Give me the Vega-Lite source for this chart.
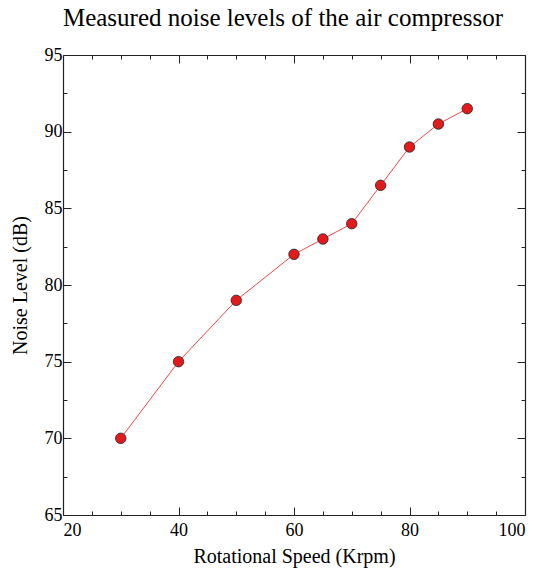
{
  "$schema": "https://vega.github.io/schema/vega-lite/v6.json",
  "autosize": {"type": "none"},
  "padding": {"left": 63, "top": 55, "right": 25, "bottom": 65},
  "width": 462,
  "height": 460,
  "title": {
    "text": "Measured noise levels of the air compressor",
    "font": "Liberation Serif",
    "fontSize": 25,
    "fontWeight": "normal",
    "color": "black",
    "anchor": "middle",
    "dx": -11,
    "offset": 15
  },
  "data": {
    "values": [
      {"speed": 30, "noise": 70},
      {"speed": 40, "noise": 75},
      {"speed": 50, "noise": 79},
      {"speed": 60, "noise": 82},
      {"speed": 65, "noise": 83},
      {"speed": 70, "noise": 84},
      {"speed": 75, "noise": 86.5},
      {"speed": 80, "noise": 89},
      {"speed": 85, "noise": 90.5},
      {"speed": 90, "noise": 91.5}
    ]
  },
  "layer": [
    {
      "mark": {"type": "line", "color": "#f04848", "strokeWidth": 1},
      "encoding": {
        "x": {
          "field": "speed", "type": "quantitative",
          "scale": {"domain": [20, 100], "nice": false, "zero": false},
          "axis": {
            "orient": "bottom",
            "title": "Rotational Speed (Krpm)",
            "values": [20, 25, 30, 35, 40, 45, 50, 55, 60, 65, 70, 75, 80, 85, 90, 95, 100],
            "labelExpr": "datum.value % 20 === 0 ? datum.label : ''",
            "tickSize": {"condition": {"test": "datum.value % 20 === 0", "value": -8}, "value": -4},
            "labelPadding": 14,
            "titlePadding": 7
          }
        },
        "y": {
          "field": "noise", "type": "quantitative",
          "scale": {"domain": [65, 95], "nice": false, "zero": false},
          "axis": {
            "orient": "left",
            "title": "Noise Level (dB)",
            "values": [65, 67.5, 70, 72.5, 75, 77.5, 80, 82.5, 85, 87.5, 90, 92.5, 95],
            "labelExpr": "datum.value % 5 === 0 ? datum.label : ''",
            "tickSize": {"condition": {"test": "datum.value % 5 === 0", "value": -8}, "value": -4},
            "labelPadding": 9,
            "titlePadding": 14
          }
        }
      }
    },
    {
      "mark": {"type": "point", "filled": true, "size": 110, "color": "#e31a1c", "stroke": "#222222", "strokeWidth": 0.8, "opacity": 1},
      "encoding": {
        "x": {
          "field": "speed", "type": "quantitative",
          "axis": {
            "orient": "top",
            "title": null,
            "labels": false,
            "values": [20, 25, 30, 35, 40, 45, 50, 55, 60, 65, 70, 75, 80, 85, 90, 95, 100],
            "tickSize": {"condition": {"test": "datum.value % 20 === 0", "value": -8}, "value": -4}
          }
        },
        "y": {
          "field": "noise", "type": "quantitative",
          "axis": {
            "orient": "right",
            "title": null,
            "labels": false,
            "values": [65, 67.5, 70, 72.5, 75, 77.5, 80, 82.5, 85, 87.5, 90, 92.5, 95],
            "tickSize": {"condition": {"test": "datum.value % 5 === 0", "value": -8}, "value": -4}
          }
        }
      }
    }
  ],
  "resolve": {"axis": {"x": "independent", "y": "independent"}},
  "config": {
    "background": "white",
    "view": {"stroke": null},
    "axis": {
      "grid": false,
      "domainColor": "#222222",
      "domainWidth": 1.2,
      "tickColor": "#222222",
      "tickWidth": 1,
      "labelFont": "Liberation Serif",
      "labelFontSize": 18,
      "labelColor": "black",
      "titleFont": "Liberation Serif",
      "titleFontSize": 20,
      "titleFontWeight": "normal",
      "titleColor": "black"
    }
  }
}
